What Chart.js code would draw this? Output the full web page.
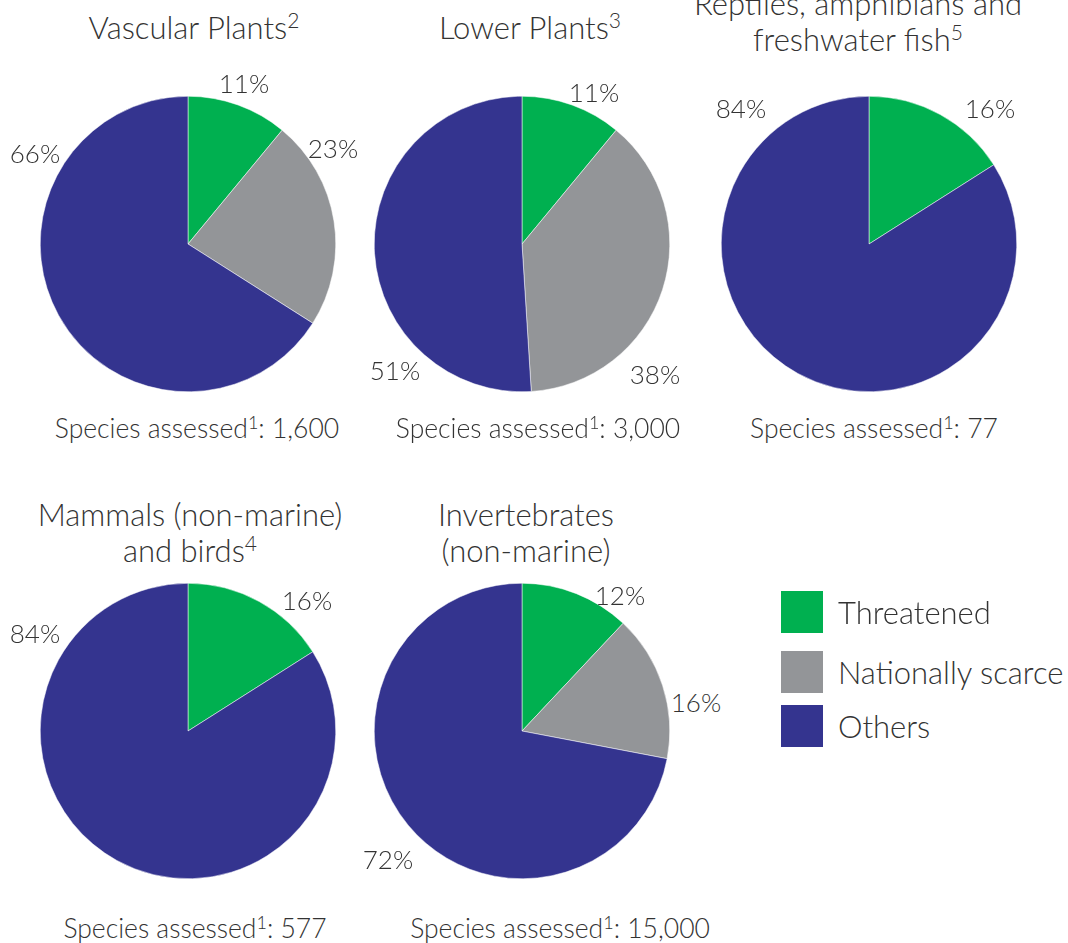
<!DOCTYPE html>
<html><head><meta charset="utf-8">
<script src="https://cdn.jsdelivr.net/npm/chart.js@4.4.1/dist/chart.umd.min.js"></script>
<style>
html,body{margin:0;padding:0;background:#fff;}
body{width:1068px;height:943px;overflow:hidden;position:relative;font-family:Lato,"Open Sans",sans-serif;font-weight:300;color:#333;}
.t{position:absolute;white-space:nowrap;transform:translate(-50%,-50%);line-height:1;}
.title{font-size:31px;text-align:center;line-height:36px;}
.lab{font-size:26px;}
.foot{font-size:26.5px;}
sup{font-size:68%;vertical-align:0;position:relative;top:-0.5em;}
.box{position:absolute;}
.leg{position:absolute;font-size:31px;line-height:1;white-space:nowrap;}
.sw{position:absolute;width:42px;height:42px;}
</style>
</head><body>
<script>
// ---- data ----
const seriesNames = ['Threatened', 'Nationally scarce', 'Others'];
const groups = ['Vascular Plants', 'Lower Plants', 'Reptiles, amphibians and freshwater fish', 'Mammals (non-marine) and birds', 'Invertebrates (non-marine)'];
const threatened = [11, 11, 16, 16, 12];
const scarce = [23, 38, 0, 0, 16];
const others = [66, 51, 84, 84, 72];
const assessed = ['1,600', '3,000', '77', '577', '15,000'];
const footnotes = ['2', '3', '5', '4', ''];

// ---- styles / layout ----
const colors = ['#00b050', '#939598', '#34348f'];
const centers = [[188, 244], [522, 244], [869, 244], [188, 731], [522, 731]];
const radius = 147;
const titleLines = [
  ['Vascular Plants'],
  ['Lower Plants'],
  ['Reptiles, amphibians and', 'freshwater fish'],
  ['Mammals (non-marine)', 'and birds'],
  ['Invertebrates', '(non-marine)']
];
const titlePos = [[194, 9], [530, 9], [858, -15], [190, 496], [526, 496]];
const labelOffsets = [
  [[56, -161], [145, -96], [-153, -91]],
  [[72, -152], [133, 130], [-127, 126]],
  [[121, -136], null, [-128, -136]],
  [[119, -131], null, [-153, -98]],
  [[98, -136], [174, -29], [-134, 128]]
];
const footPos = [[197, 428], [538, 428], [874, 428], [195, 928], [560, 928]];

function el(cls, html, x, y, extra) {
  const d = document.createElement('div');
  d.className = cls;
  d.innerHTML = html;
  d.style.left = x + 'px';
  d.style.top = y + 'px';
  if (extra) Object.assign(d.style, extra);
  document.body.appendChild(d);
  return d;
}

groups.forEach((g, i) => {
  const [cx, cy] = centers[i];
  const size = 2 * radius + 2;
  const wrap = document.createElement('div');
  wrap.className = 'box';
  wrap.style.left = (cx - size / 2) + 'px';
  wrap.style.top = (cy - size / 2) + 'px';
  wrap.style.width = size + 'px';
  wrap.style.height = size + 'px';
  const cv = document.createElement('canvas');
  wrap.appendChild(cv);
  document.body.appendChild(wrap);
  const vals = [threatened[i], scarce[i], others[i]];
  new Chart(cv, {
    type: 'pie',
    data: {
      labels: seriesNames,
      datasets: [{ data: vals, backgroundColor: colors, borderColor: '#ffffff', borderWidth: 0.5 }]
    },
    options: {
      responsive: true, maintainAspectRatio: false, animation: false, events: [],
      layout: { padding: 0 },
      plugins: { legend: { display: false }, tooltip: { enabled: false } }
    }
  });
  // title
  const lines = titleLines[i].slice();
  const last = lines.length - 1;
  if (footnotes[i]) lines[last] = lines[last] + '<sup>' + footnotes[i] + '</sup>';
  el('t title', lines.join('<br>'), titlePos[i][0], titlePos[i][1], { transform: 'translate(-50%,0)' });
  // percent labels
  vals.forEach((v, k) => {
    const o = labelOffsets[i][k];
    if (!v || !o) return;
    el('t lab', v + '%', cx + o[0], cy + o[1]);
  });
  // footer
  el('t foot', 'Species assessed<sup>1</sup>: ' + assessed[i], footPos[i][0], footPos[i][1]);
});

// legend
const legTop = [591, 651, 705];
seriesNames.forEach((n, k) => {
  const s = document.createElement('div');
  s.className = 'sw';
  s.style.left = '781px';
  s.style.top = legTop[k] + 'px';
  s.style.background = colors[k];
  document.body.appendChild(s);
  el('leg', n, 838, legTop[k] + 21, { transform: 'translate(0,-50%)' });
});
</script>
</body></html>
